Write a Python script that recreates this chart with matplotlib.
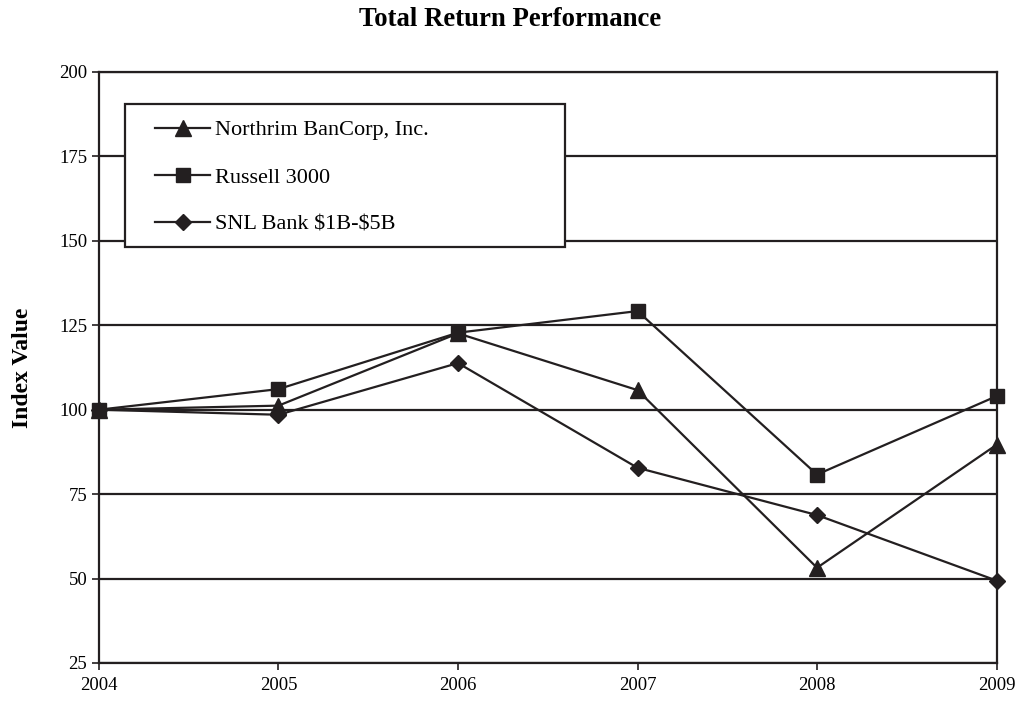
import matplotlib
matplotlib.use("Agg")
import matplotlib.pyplot as plt
from matplotlib.patches import Rectangle

years = ["2004", "2005", "2006", "2007", "2008", "2009"]
northrim = [100, 101.2, 122.6, 105.8, 53.2, 89.6]
russell = [100, 106.1, 122.8, 129.2, 80.8, 104.0]
snl = [100, 98.5, 113.8, 82.8, 68.8, 49.4]
yticks = [25, 50, 75, 100, 125, 150, 175, 200]

plt.rcParams['font.family'] = ['Liberation Serif', 'DejaVu Serif']

fig = plt.figure(figsize=(10.2, 7.05), dpi=100)
ax = fig.add_axes([0.097, 0.0596, 0.88, 0.8383])

x = list(range(len(years)))
kw = dict(color='#231f20', lw=1.6, clip_on=False, zorder=3)
ax.plot(x, northrim, marker='^', ms=11, label='Northrim BanCorp, Inc.', **kw)
ax.plot(x, russell, marker='s', ms=10, label='Russell 3000', **kw)
ax.plot(x, snl, marker='D', ms=8.5, label='SNL Bank \\$1B-\\$5B', **kw)

ax.set_xlim(0, 5)
ax.set_ylim(25, 200)
ax.set_xticks(x)
ax.set_xticklabels(years, fontsize=13.5)
ax.set_yticks(yticks)
ax.set_yticklabels([str(v) for v in yticks], fontsize=13.5)
ax.yaxis.grid(True, color='#231f20', lw=1.6)
ax.set_axisbelow(True)
for s in ax.spines.values():
    s.set_color('#231f20')
    s.set_linewidth(1.6)
ax.tick_params(axis='both', direction='out', length=5, width=1.2, color='#231f20')
ax.tick_params(axis='x', pad=5)

ax.set_ylabel('Index Value', fontsize=17, fontweight='bold', labelpad=19)
fig.suptitle('Total Return Performance', fontsize=19.3, fontweight='bold', y=0.99)

box = Rectangle((0.029, 0.704), 0.49, 0.242, transform=ax.transAxes,
                facecolor='white', edgecolor='#231f20', lw=1.6, zorder=4)
ax.add_patch(box)

leg = ax.legend(loc='upper left', bbox_to_anchor=(0.063, 0.919),
                fontsize=16, frameon=False, borderpad=0, borderaxespad=0,
                labelspacing=1.2, handlelength=2.45, handletextpad=0.23)
leg.set_zorder(5)

fig.savefig('out.png', dpi=100)
